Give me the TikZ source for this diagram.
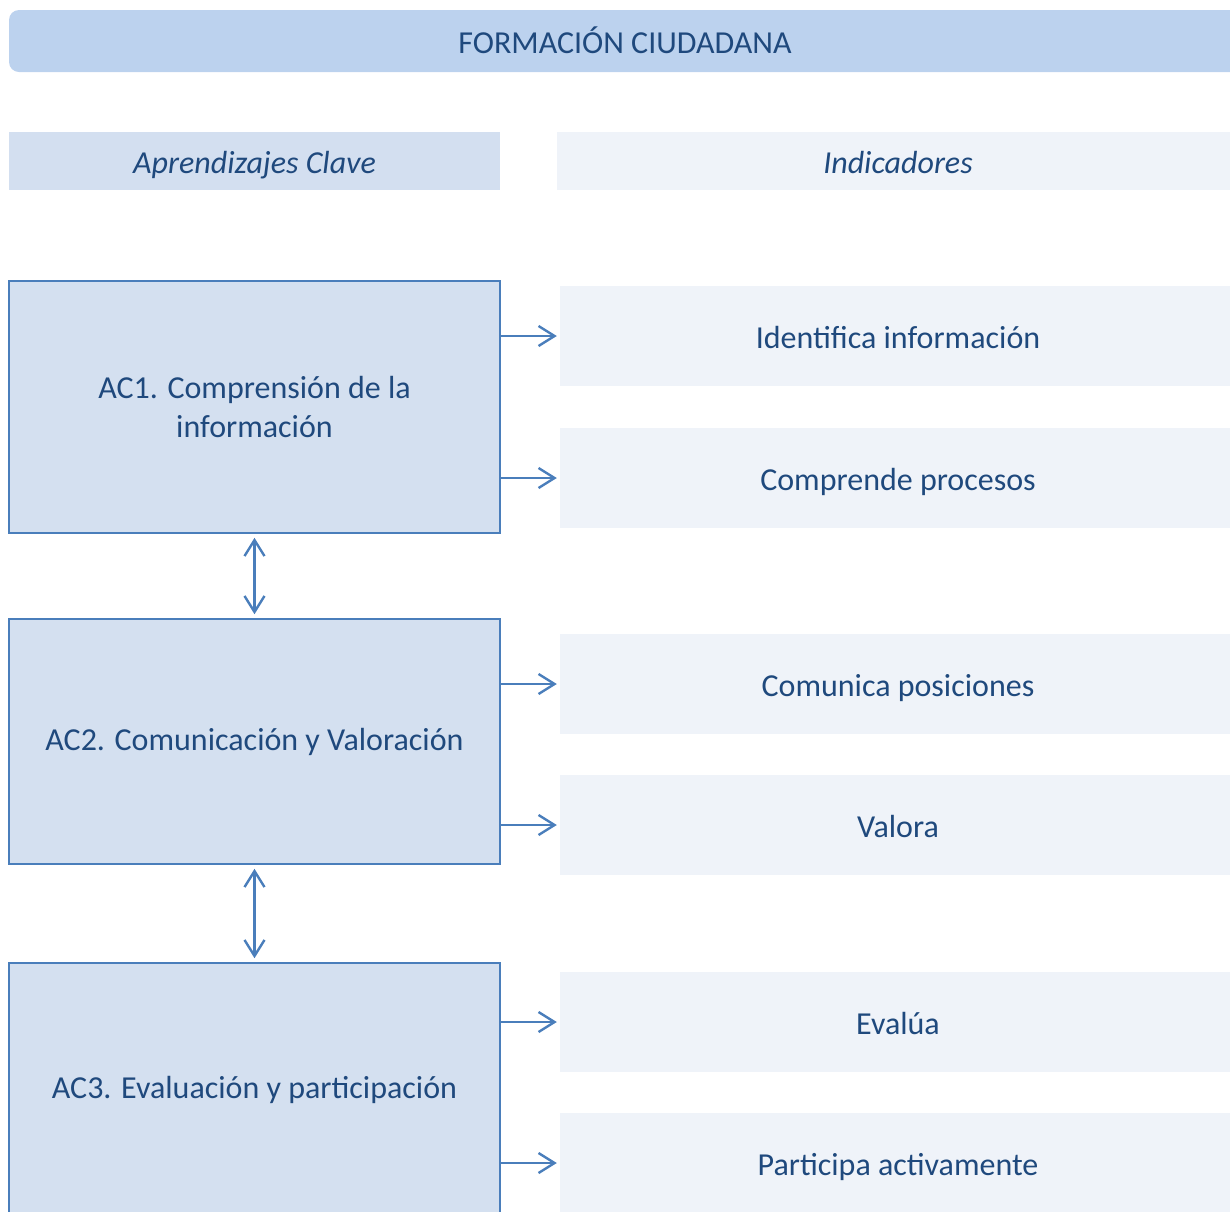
\documentclass[tikz,border=0pt]{standalone}
\usepackage{fontspec}
\setmainfont{Carlito}
\usetikzlibrary{arrows.meta}

\definecolor{barblue}{HTML}{BCD2EE}
\definecolor{headfill}{HTML}{D3DFF0}
\definecolor{indfill}{HTML}{EFF3F9}
\definecolor{acfill}{HTML}{D4E0F0}
\definecolor{lineblue}{HTML}{4A7EBB}
\definecolor{textblue}{HTML}{1F497D}

\begin{document}
\begin{tikzpicture}[x=1pt, y=-1pt,
    every node/.style={font=\fontsize{32}{39}\selectfont, text=textblue, inner sep=0pt},
    onerow/.style={text height=30pt, text depth=6pt},
    acbox/.style={draw=lineblue, line width=1.6pt, fill=acfill, minimum width=491pt, align=center},
    indbox/.style={onerow, fill=indfill, minimum width=676pt, minimum height=100pt},
    arr/.style={draw=lineblue, line width=2.4pt, -{Straight Barb[length=16pt, width=20pt, line width=2.4pt]}},
    dblarr/.style={draw=lineblue, line width=2.4pt, {Straight Barb[length=16pt, width=20pt, line width=2.4pt]}-{Straight Barb[length=16pt, width=20pt, line width=2.4pt]}, shorten <=4pt, shorten >=4pt}
  ]
    % Frame
    \path[use as bounding box, clip] (0,0) rectangle (1230,1211);

    % Title bar
    \node[onerow, fill=barblue, rounded corners=10pt, minimum width=1232pt, minimum height=62pt] (title) at (625,41) {FORMACIÓN CIUDADANA};

    % Column headers
    \node[onerow, fill=headfill, minimum width=491pt, minimum height=58pt] (hleft) at (254.5,161) {\itshape Aprendizajes Clave};
    \node[onerow, fill=indfill, minimum width=682pt, minimum height=58pt] (hright) at (898,161) {\itshape Indicadores};

    % Aprendizajes clave
    \node[acbox, minimum height=252pt] (ac1) at (254.5,407) {AC1. Comprensión de la\\información};
    \node[acbox, minimum height=245pt, yshift=-2pt] (ac2) at (254.5,739.5) {AC2. Comunicación y Valoración};
    \node[acbox, minimum height=254pt] (ac3) at (254.5,1090) {AC3. Evaluación y participación};

    % Indicadores
    \node[indbox] (ind1) at (898,336) {Identifica información};
    \node[indbox] (ind2) at (898,478) {Comprende procesos};
    \node[indbox] (ind3) at (898,684) {Comunica posiciones};
    \node[indbox] (ind4) at (898,825) {Valora};
    \node[indbox] (ind5) at (898,1022) {Evalúa};
    \node[indbox] (ind6) at (898,1163) {Participa activamente};

    % Arrows to indicators
    \draw[arr, shorten >=3pt] (ac1.east |- ind1.west) -- (ind1.west);
    \draw[arr, shorten >=3pt] (ac1.east |- ind2.west) -- (ind2.west);
    \draw[arr, shorten >=3pt] (ac2.east |- ind3.west) -- (ind3.west);
    \draw[arr, shorten >=3pt] (ac2.east |- ind4.west) -- (ind4.west);
    \draw[arr, shorten >=3pt] (ac3.east |- ind5.west) -- (ind5.west);
    \draw[arr, shorten >=3pt] (ac3.east |- ind6.west) -- (ind6.west);

    % Links between AC boxes
    \draw[dblarr] (ac1.south) -- (ac2.north);
    \draw[dblarr] (ac2.south) -- (ac3.north);
\end{tikzpicture}
\end{document}
